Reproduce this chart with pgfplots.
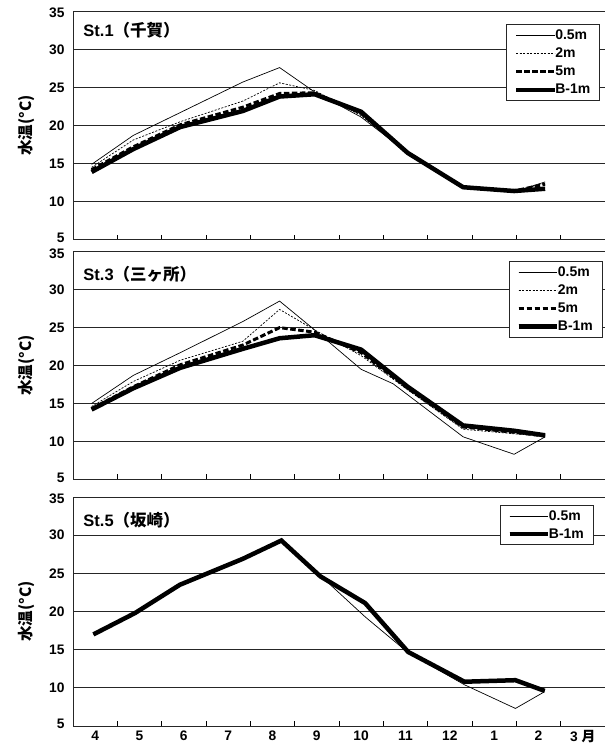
\documentclass[border=0pt]{standalone}
\usepackage{fontspec}
\setmainfont{Liberation Sans}
\newfontfamily\jp{Noto Sans CJK JP}
\usepackage{pgfplots}
\pgfplotsset{compat=1.18}
\tikzset{ttl/.style={anchor=west, font=\bfseries\fontsize{16.5bp}{18bp}\selectfont}}
\pgfplotsset{
 panel/.style={
  scale only axis, width=532bp, height=228bp,
  xmin=0, xmax=12, ymin=5, ymax=35,
  ytick={5,10,...,35},
  ymajorgrids, grid style={black!85, line width=0.8bp},
  axis x line=bottom, axis y line=left,
  axis line style={-, black!85, line width=0.9bp},
  xtick={0.5,1.5,...,11.5}, minor xtick={1,...,11},
  xticklabels={},
  major tick length=0pt, minor tick length=5bp,
  tick align=inside, minor tick style={black, line width=0.8bp},
  tick label style={font=\bfseries\fontsize{13.8bp}{15bp}\selectfont},
  /pgf/number format/assume math mode=true,
  yticklabel style={xshift=-5bp, inner ysep=0pt,
    yshift={ifthenelse(\ticknum==0,1.8,ifthenelse(\ticknum==6,-1.8,0))}},
  ylabel={\jp\bfseries 水温(°C)},
  ylabel style={at={(axis description cs:-0.088,0.5)}, anchor=center, font=\fontsize{15.5bp}{17bp}\selectfont},
  legend style={draw=black!85, line width=0.8bp, fill=white,
    font=\bfseries\fontsize{14bp}{15bp}\selectfont,
    inner xsep=7bp, inner ysep=3bp, row sep=3bp, cells={anchor=west}},
  legend image code/.code={\path (0bp,0bp) -- (35bp,0bp); \draw[#1, overlay] (0bp,0bp) -- (38.5bp,0bp);},
 },
 s05/.style={black, line width=0.7bp},
 s2/.style={black, line width=0.7bp, dash pattern=on 2bp off 1.5bp},
 s5/.style={black, line width=3bp, dash pattern=on 5.5bp off 2.5bp},
 sb/.style={black, line width=4.5bp},
}
\begin{document}
\begin{tikzpicture}
\useasboundingbox (0,0) rectangle (608bp,749bp);
% ---------- St.1 ----------
\begin{axis}[panel, height=228.6bp, at={(73bp,509.2bp)}, anchor=south west,
  legend style={at={(0.99,0.943)}, anchor=north east}]
\addplot[s05] coordinates {(0.42,14.9) (1.36,18.7) (2.42,21.7) (3.83,25.7) (4.66,27.6) (5.45,24.4) (6.5,21.1) (7.55,16.4) (8.8,11.9) (9.95,11.3) (10.65,12.6)};
\addlegendentry{0.5m}
\addplot[s2] coordinates {(0.42,14.5) (1.36,18.1) (2.42,20.5) (3.83,23.2) (4.66,25.6) (5.45,24.6) (6.5,21.3) (7.55,16.4) (8.8,11.9) (9.95,11.4) (10.65,12.4)};
\addlegendentry{2m}
\addplot[s5] coordinates {(0.42,14.2) (1.36,17.2) (2.42,20.1) (3.83,22.4) (4.66,24.2) (5.45,24.3) (6.5,21.6) (7.55,16.4) (8.8,11.9) (9.95,11.4) (10.65,12.3)};
\addlegendentry{5m}
\addplot[sb] coordinates {(0.42,13.9) (1.36,16.9) (2.42,19.8) (3.83,21.9) (4.66,23.8) (5.45,24.1) (6.5,21.8) (7.55,16.4) (8.8,11.9) (9.95,11.4) (10.65,11.7)};
\addlegendentry{B-1m}
\node[ttl] at (axis description cs:0.013,0.915) {St.1{\jp（千賀）}};
\end{axis}
% ---------- St.3 ----------
\begin{axis}[panel, height=227.5bp, at={(73bp,269.7bp)}, anchor=south west,
  legend style={at={(0.995,0.96)}, anchor=north east}]
\addplot[s05] coordinates {(0.42,15.0) (1.36,18.7) (2.42,21.7) (3.83,25.8) (4.66,28.5) (5.45,24.7) (6.5,19.5) (7.22,17.6) (8.8,10.6) (9.95,8.3) (10.65,10.6)};
\addlegendentry{0.5m}
\addplot[s2] coordinates {(0.42,14.6) (1.36,17.9) (2.42,20.7) (3.83,23.2) (4.66,27.4) (5.45,24.7) (6.5,21.3) (7.55,16.8) (8.8,11.6) (9.95,11.0) (10.65,10.7)};
\addlegendentry{2m}
\addplot[s5] coordinates {(0.42,14.3) (1.36,17.2) (2.42,20.1) (3.83,22.7) (4.66,25.0) (5.45,24.4) (6.5,21.7) (7.55,17.0) (8.8,11.9) (9.95,11.2) (10.65,10.7)};
\addlegendentry{5m}
\addplot[sb] coordinates {(0.42,14.2) (1.36,17.0) (2.42,19.7) (3.83,22.2) (4.66,23.6) (5.45,24.0) (6.5,22.1) (7.55,17.2) (8.8,12.1) (9.95,11.4) (10.65,10.8)};
\addlegendentry{B-1m}
\node[ttl] at (axis description cs:0.013,0.9) {St.3{\jp（三ヶ所）}};
\end{axis}
% ---------- St.5 ----------
\begin{axis}[panel, height=229bp, at={(73bp,23bp)}, anchor=south west,
  xticklabels={4,5,6,7,8,9,10,11,12,1,2,{3 {\jp 月}}},
  xticklabel style={yshift=-1bp},
  legend style={at={(0.978,0.965)}, anchor=north east}]
\addplot[s05] coordinates {(0.46,17.0) (1.40,19.8) (2.41,23.5) (3.83,26.9) (4.70,29.3) (5.58,24.7) (6.59,19.3) (7.56,14.6) (8.83,10.4) (9.98,7.3) (10.64,9.5)};
\addlegendentry{0.5m}
\addplot[sb] coordinates {(0.46,17.0) (1.40,19.8) (2.41,23.5) (3.83,26.9) (4.70,29.3) (5.58,24.6) (6.59,21.1) (7.56,14.7) (8.83,10.8) (9.98,11.0) (10.64,9.6)};
\addlegendentry{B-1m}
\node[ttl] at (axis description cs:0.013,0.897) {St.5{\jp（坂崎）}};
\end{axis}
\end{tikzpicture}
\end{document}
